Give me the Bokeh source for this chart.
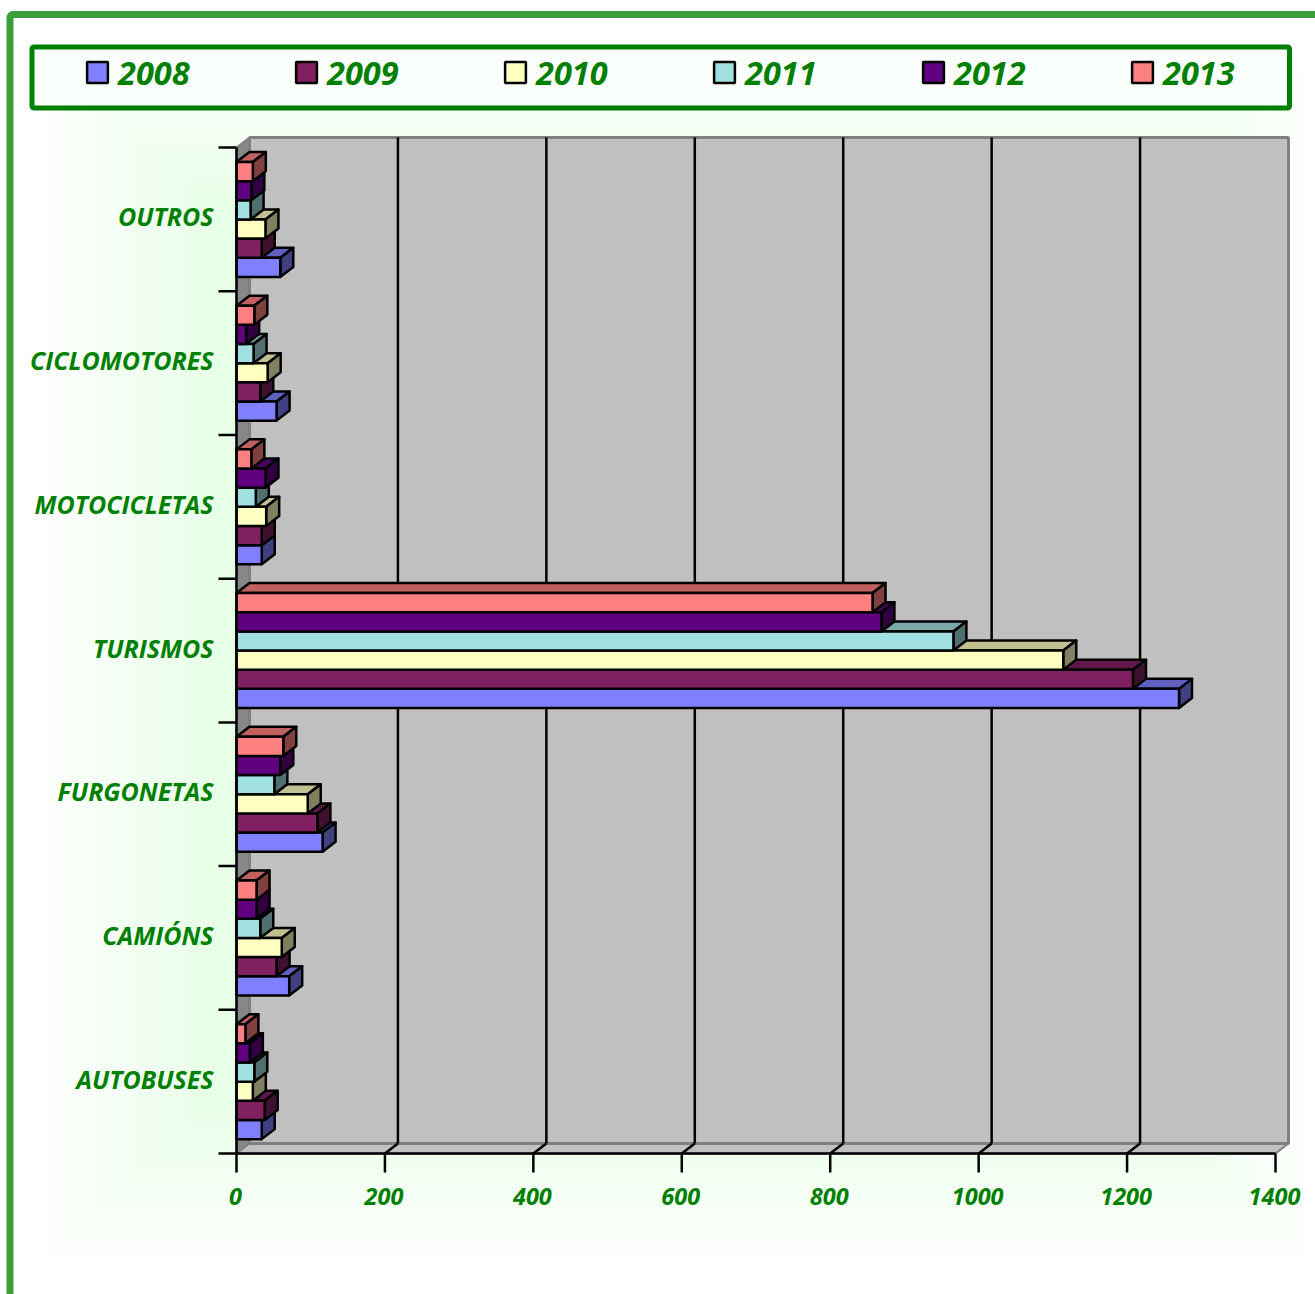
from bokeh.plotting import figure
from bokeh.core.properties import value
from bokeh.models import BoxAnnotation, ColumnDataSource, Legend, LegendItem, Range1d
from bokeh.embed import file_html
from bokeh.resources import INLINE

categories = ["AUTOBUSES", "CAMIÓNS", "FURGONETAS", "TURISMOS", "MOTOCICLETAS", "CICLOMOTORES", "OUTROS"]
years = ["2008", "2009", "2010", "2011", "2012", "2013"]
v2008 = [34, 71, 116, 1270, 34, 54, 59]
v2009 = [38, 54, 109, 1208, 34, 32, 34]
v2010 = [22, 61, 96, 1114, 40, 42, 39]
v2011 = [24, 32, 51, 966, 26, 23, 19]
v2012 = [18, 27, 59, 869, 39, 13, 20]
v2013 = [12, 27, 63, 857, 20, 24, 22]
series = [v2008, v2009, v2010, v2011, v2012, v2013]
x_ticks = [0, 200, 400, 600, 800, 1000, 1200, 1400]
x_tick_labels = ["0", "200", "400", "600", "800", "1000", "1200", "1400"]

front = ["#8080ff", "#802060", "#ffffc0", "#a0e0e0", "#600080", "#ff8080"]
top_c = ["#6060c0", "#601848", "#c0c090", "#78a8a8", "#480060", "#c06060"]
side_c = ["#404080", "#401030", "#808060", "#507070", "#300040", "#804040"]

GREEN = "#008000"
FONT = value("Open Sans")
W, H = 1315, 1294
KX = 1039 / 1400           # pixels per unit on x
KY = 143.7                 # pixels per category on y
X0, Y0 = 236, 1153         # page position of the chart's origin
DX, DY = 13 / KX, 10 / KY  # depth of the 3D projection, in data units
BAR = 0.8 / 6
TICK_X, TICK_Y = 18 / KX, 19 / KY

p = figure(width=W, height=H, output_backend="svg", toolbar_location=None,
           x_range=Range1d(-X0 / KX, (W - X0) / KX), y_range=Range1d((Y0 - H) / KY, Y0 / KY),
           x_axis_location=None, y_axis_location=None,
           min_border=0, min_border_left=0, min_border_right=0, min_border_top=0, min_border_bottom=0,
           outline_line_color=None, background_fill_color="#ffffff", border_fill_color="#ffffff")
p.grid.visible = False

def box(left, right, top, bottom, **kw):
    # top and bottom are given from the page's top; screen units count from the bottom
    return BoxAnnotation(left=left, right=right, top=H - top, bottom=H - bottom,
                         left_units="screen", right_units="screen", top_units="screen", bottom_units="screen",
                         level="underlay", **kw)

# pale green background gradient, made of nested bands
n = 12
for i in range(n):
    f = i / (n - 1)
    g = int(253 - (253 - 228) * f)
    p.add_layout(box(47 + 190 * f, 1303 - 190 * f, 70 + 150 * f, 1255 - 180 * f,
                     fill_color="#%02xff%02x" % (g, g), fill_alpha=1, line_color=None))

# outer frame and legend frame
p.add_layout(box(9.5, W + 30, 14, H + 30, border_radius=3,
                 fill_alpha=0, line_color="#3a9e3a", line_width=7, line_alpha=1))
p.add_layout(box(31.5, 1289, 46.5, 107.5, border_radius=2,
                 fill_color="#fbfffb", fill_alpha=1, line_color=GREEN, line_width=5, line_alpha=1))

# left wall, floor, back wall
p.patch([0, DX, DX, 0], [0, DY, 7 + DY, 7], fill_color="#878787", line_color="#808080", line_width=2)
p.patch([0, 1400, 1400 + DX, DX], [0, 0, DY, DY], fill_color="#c0c0c0", line_color="#808080", line_width=2)
p.patch([DX, 1400 + DX, 1400 + DX, DX], [DY, DY, 7 + DY, 7 + DY], fill_color="#c0c0c0", line_color="#808080",
        line_width=3)

# gridlines on the wall and their continuation on the floor
inner = x_ticks[1:-1]
p.segment([t + DX for t in inner], [DY] * len(inner), [t + DX for t in inner], [7 + DY] * len(inner),
          line_color="black", line_width=2.5)
p.segment(inner, [0] * len(inner), [t + DX for t in inner], [DY] * len(inner), line_color="black", line_width=2.5)

items = []
for j, (vals, year) in enumerate(zip(series, years)):
    y0 = [i + 0.1 + j * BAR for i in range(len(vals))]
    y1 = [y + BAR for y in y0]
    top_xs = [[0, v, v + DX, DX] for v in vals]
    top_ys = [[b, b, b + DY, b + DY] for b in y1]
    side_xs = [[v, v + DX, v + DX, v] for v in vals]
    side_ys = [[a, a + DY, b + DY, b] for a, b in zip(y0, y1)]
    p.patches(top_xs, top_ys, fill_color=top_c[j], line_color="black", line_width=2.5, line_join="round")
    p.patches(side_xs, side_ys, fill_color=side_c[j], line_color="black", line_width=2.5, line_join="round")
    src = ColumnDataSource(dict(left=[0] * len(vals), right=vals, bottom=y0, top=y1))
    r = p.quad(left="left", right="right", bottom="bottom", top="top", source=src,
               fill_color=front[j], line_color="black", line_width=2.5)
    items.append(LegendItem(label=year, renderers=[r]))

legend = Legend(items=items, location=(84, H - 72.5 - 22), orientation="horizontal",
                glyph_width=26, glyph_height=26, label_standoff=8, label_width=80, spacing=95,
                padding=0, margin=0, background_fill_alpha=0, border_line_color=None,
                label_text_font="Open Sans", label_text_font_size="32.5px", label_text_font_style="bold italic",
                label_text_color=GREEN)
p.add_layout(legend, "center")

# axes: lines, ticks and labels, all placed through the chart's scales
nt = len(x_ticks)
p.segment([0, 0], [0, 0], [1400, 0], [0, 7], line_color="black", line_width=2.5)
p.segment(x_ticks, [0] * nt, x_ticks, [-TICK_Y] * nt, line_color="black", line_width=2.5)
edges = list(range(len(categories) + 1))
p.segment([0] * len(edges), edges, [-TICK_X] * len(edges), edges, line_color="black", line_width=2.5)
p.text(x_ticks, [0] * nt, text=x_tick_labels, text_align="center", text_baseline="middle",
       x_offset=-1, y_offset=43, text_font=FONT, text_font_size="23.5px", text_font_style="bold italic",
       text_color=GREEN)
centers = [i + 0.5 for i in range(len(categories))]
p.text([0] * len(centers), centers, text=categories, text_align="right", text_baseline="middle",
       x_offset=-23, y_offset=-3, text_font=FONT, text_font_size="25px", text_font_style="bold italic",
       text_color=GREEN)

open("out.html", "w").write(file_html(p, INLINE))
